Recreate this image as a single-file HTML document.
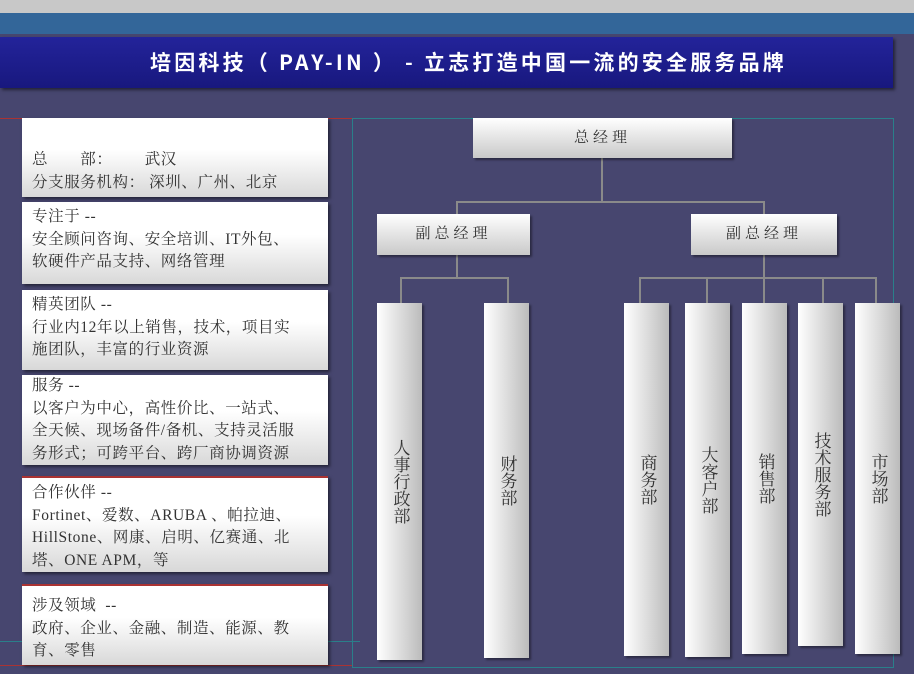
<!DOCTYPE html><html><head><meta charset="utf-8"><style>
body{margin:0;width:914px;height:674px;overflow:hidden;background:#47466f;position:relative;font-family:"Liberation Serif","Noto Serif CJK SC","WenQuanYi Zen Hei",serif}
div{position:absolute;box-sizing:border-box}
.lb{left:22px;width:306px;background:linear-gradient(#fff 40%,#d8d8d8);box-shadow:2px 2px 3px rgba(0,0,0,.5);color:#333;font-size:15.5px;line-height:22.5px;padding:0 10px;letter-spacing:0.6px}
.n{background:linear-gradient(#fff,#c9c9c9);color:#333;font-size:15px;text-align:center;letter-spacing:4px;box-shadow:2px 2px 2px rgba(0,0,0,.4)}
.v{top:303px;width:45px;background:linear-gradient(90deg,#fff,#d0d0d0 70%,#bbb);color:#333;font-size:17px;line-height:22px;text-align:center;box-shadow:2px 2px 2px rgba(0,0,0,.4);display:flex;align-items:center;justify-content:center;writing-mode:vertical-rl;text-orientation:upright}
.l{background:#8a8a8a}
</style></head><body>
<div style="left:0;top:0;width:914px;height:13px;background:#c8c8c8"></div>
<div style="left:0;top:13px;width:914px;height:21px;background:#336699"></div>
<div style="left:0;top:37px;width:893px;height:51px;background:linear-gradient(#23239a,#18187e);box-shadow:2px 2px 3px rgba(0,0,0,.5);color:#fff;font-weight:bold;font-size:21px;line-height:51px;padding-left:150px;letter-spacing:3.2px;font-family:'Noto Sans CJK SC','WenQuanYi Zen Hei',sans-serif">培因科技（ PAY-IN ） - 立志打造中国一流的安全服务品牌</div>
<div style="left:0;top:118px;width:352px;height:1px;background:#a33"></div>
<div style="left:0;top:665px;width:352px;height:1px;background:#a33"></div>
<div style="left:352px;top:118px;width:542px;height:550px;border:1px solid #2a7f8a"></div>
<div style="left:0;top:641px;width:360px;height:1px;background:#2a7f8a"></div>
<div class="lb" style="top:118px;height:79px;padding-top:31px">总&emsp;&emsp;部：&emsp;&emsp;武汉<br>分支服务机构：&nbsp;深圳、广州、北京</div>
<div class="lb" style="top:202px;height:82px;padding-top:4px">专注于 --<br>安全顾问咨询、安全培训、IT外包、<br>软硬件产品支持、网络管理</div>
<div class="lb" style="top:290px;height:80px;padding-top:4px">精英团队 --<br>行业内12年以上销售，技术，项目实<br>施团队，丰富的行业资源</div>
<div class="lb" style="top:375px;height:90px;padding-top:0px">服务 --<br>以客户为中心，高性价比、一站式、<br>全天候、现场备件/备机、支持灵活服<br>务形式；可跨平台、跨厂商协调资源</div>
<div class="lb" style="top:476px;height:96px;padding-top:4px;border-top:2px solid #a33">合作伙伴 --<br>Fortinet、爱数、ARUBA 、帕拉迪、<br>HillStone、网康、启明、亿赛通、北<br>塔、ONE APM，等</div>
<div class="lb" style="top:584px;height:81px;padding-top:9px;border-top:2px solid #a33">涉及领域 &nbsp;--<br>政府、企业、金融、制造、能源、教<br>育、零售</div>
<div class="l" style="left:601px;top:158px;width:2px;height:44px"></div>
<div class="l" style="left:456px;top:201px;width:309px;height:2px"></div>
<div class="l" style="left:456px;top:201px;width:2px;height:13px"></div>
<div class="l" style="left:763px;top:201px;width:2px;height:13px"></div>
<div class="l" style="left:456px;top:255px;width:2px;height:23px"></div>
<div class="l" style="left:400px;top:277px;width:109px;height:2px"></div>
<div class="l" style="left:400px;top:277px;width:2px;height:26px"></div>
<div class="l" style="left:507px;top:277px;width:2px;height:26px"></div>
<div class="l" style="left:763px;top:255px;width:2px;height:23px"></div>
<div class="l" style="left:639px;top:277px;width:238px;height:2px"></div>
<div class="l" style="left:639px;top:277px;width:2px;height:26px"></div>
<div class="l" style="left:706px;top:277px;width:2px;height:26px"></div>
<div class="l" style="left:763px;top:277px;width:2px;height:26px"></div>
<div class="l" style="left:822px;top:277px;width:2px;height:26px"></div>
<div class="l" style="left:875px;top:277px;width:2px;height:26px"></div>
<div class="n" style="left:473px;top:118px;width:259px;height:40px;line-height:40px">总经理</div>
<div class="n" style="left:377px;top:214px;width:153px;height:41px;line-height:41px">副总经理</div>
<div class="n" style="left:691px;top:214px;width:146px;height:41px;line-height:41px">副总经理</div>
<div class="v" style="left:377px;height:357px">人事行政部</div>
<div class="v" style="left:484px;height:355px">财务部</div>
<div class="v" style="left:624px;height:353px">商务部</div>
<div class="v" style="left:685px;height:354px">大客户部</div>
<div class="v" style="left:742px;height:351px">销售部</div>
<div class="v" style="left:798px;height:343px">技术服务部</div>
<div class="v" style="left:855px;height:351px">市场部</div>
</body></html>
